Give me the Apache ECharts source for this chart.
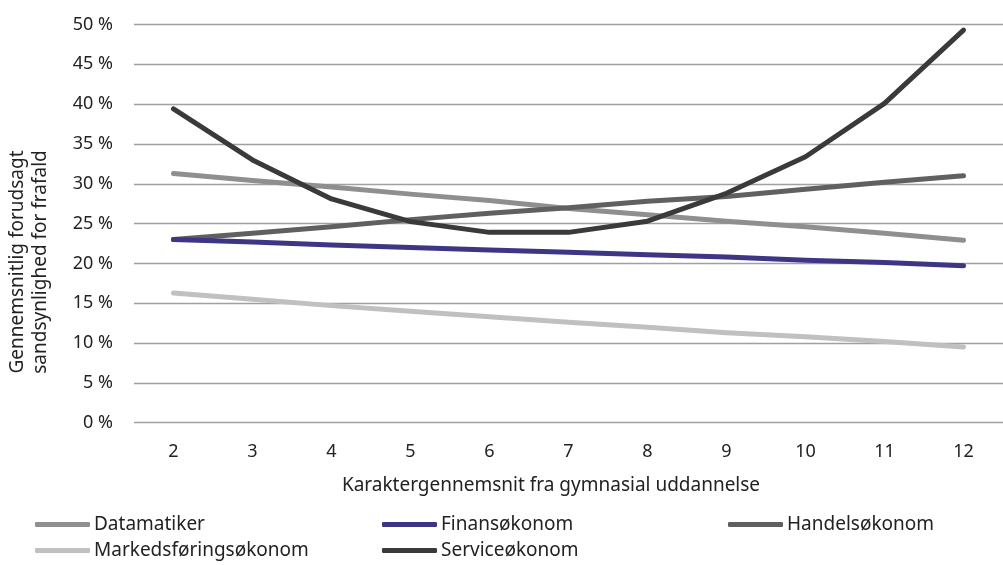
<!DOCTYPE html>
<html><head><meta charset="utf-8">
<script src="https://cdn.jsdelivr.net/npm/echarts@6/dist/echarts.min.js"></script>
<style>html,body{margin:0;padding:0;background:#fff}#c{width:1003px;height:565px}</style>
</head><body><div id="c"></div>
<script>
const categories = ['2','3','4','5','6','7','8','9','10','11','12'];
const datamatiker = [31.3, 30.4, 29.6, 28.7, 27.9, 26.9, 26.1, 25.3, 24.6, 23.8, 22.9];
const finansokonom = [23.0, 22.7, 22.3, 22.0, 21.7, 21.4, 21.1, 20.8, 20.4, 20.1, 19.7];
const handelsokonom = [23.0, 23.8, 24.6, 25.5, 26.3, 27.0, 27.8, 28.4, 29.3, 30.2, 31.0];
const markedsforingsokonom = [16.3, 15.5, 14.7, 14.0, 13.3, 12.6, 12.0, 11.3, 10.8, 10.2, 9.5];
const serviceokonom = [39.4, 33.0, 28.1, 25.25, 23.9, 23.9, 25.3, 28.8, 33.4, 40.1, 49.3];
const seriesNames = ['Datamatiker','Finansøkonom','Handelsøkonom','Markedsføringsøkonom','Serviceøkonom'];
const seriesData = [datamatiker, finansokonom, handelsokonom, markedsforingsokonom, serviceokonom];
const colors = ['#8f8f8f','#3e3585','#606060','#c0c0c0','#3a3a3a'];
const font = 'Noto Sans';
const chart = echarts.init(document.getElementById('c'));
const legendPos = [[35,515],[382,515],[728,515],[35,541],[382,541]];
chart.setOption({
  animation:false,
  textStyle:{fontFamily:font},
  grid:{left:134,right:-11,top:24.5,bottom:142.3,containLabel:false},
  xAxis:{type:'category',data:categories,boundaryGap:true,
    axisLine:{show:false},axisTick:{show:false},
    axisLabel:{color:'#222',fontSize:18,fontFamily:font,margin:20}},
  yAxis:{type:'value',min:0,max:50,interval:5,
    axisLabel:{formatter:'{value} %',color:'#222',fontSize:18,fontFamily:font,margin:21},
    splitLine:{lineStyle:{color:'#a0a0a0',width:1.3}},axisLine:{show:false},axisTick:{show:false}},
  legend: seriesNames.map((n,i)=>({data:[n],left:legendPos[i][0],top:legendPos[i][1],
    icon:'roundRect',itemWidth:55,itemHeight:5,padding:0,itemGap:5,
    textStyle:{fontSize:19,color:'#222',fontFamily:font,padding:[0,0,0,-1]}})),
  graphic:[
    {type:'text',position:[551,476],style:{text:'Karaktergennemsnit fra gymnasial uddannelse',font:'19px "Noto Sans"',fill:'#222',textAlign:'center'}},
    {type:'text',rotation:Math.PI/2,position:[6,262],style:{text:'Gennemsnitlig forudsagt\nsandsynlighed for frafald',font:'19px "Noto Sans"',fill:'#222',textAlign:'center',textVerticalAlign:'top',lineHeight:23}}
  ],
  series: seriesNames.map((n,i)=>({name:n,type:'line',data:seriesData[i],
    symbol:'none',lineStyle:{width:5,color:colors[i],cap:'round',join:'round'},itemStyle:{color:colors[i]},z:[2,3,2,2,4][i]}))
});
</script></body></html>
